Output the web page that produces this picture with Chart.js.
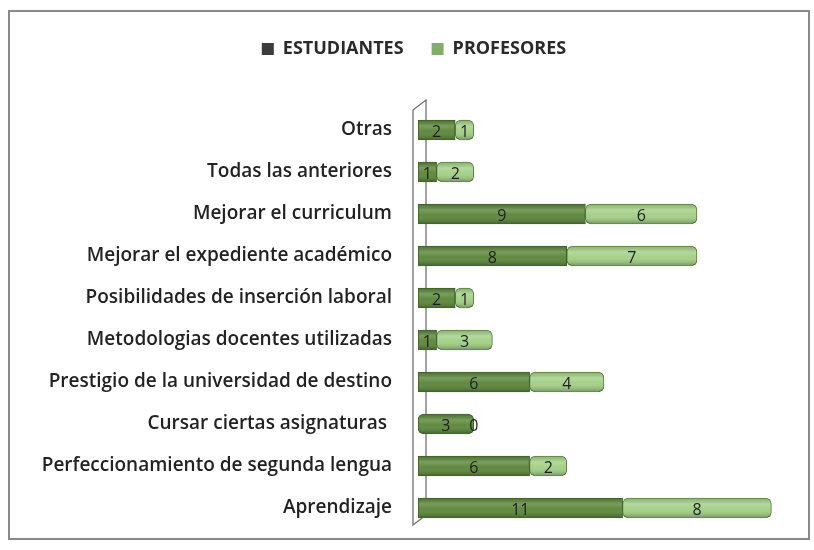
<!DOCTYPE html>
<html>
<head>
<meta charset="utf-8">
<script src="https://cdn.jsdelivr.net/npm/chart.js@4.4.0/dist/chart.umd.min.js"></script>
<style>
  body { margin: 0; background: #fff; }
  #frame { position: absolute; left: 8px; top: 10px; width: 798px; height: 526px; border: 2px solid #8a8a8a; background: #fff; }
  canvas { display: block; }
</style>
</head>
<body>
<div id="frame"><canvas id="c" width="798" height="526"></canvas></div>
<script>
const CATEGORIES = ['Otras','Todas las anteriores','Mejorar el curriculum','Mejorar el expediente académico','Posibilidades de inserción laboral','Metodologias docentes utilizadas','Prestigio de la universidad de destino','Cursar ciertas asignaturas ','Perfeccionamiento de segunda lengua','Aprendizaje'];
const ESTUDIANTES = [2, 1, 9, 8, 2, 1, 6, 3, 6, 11];
const PROFESORES  = [1, 2, 6, 7, 1, 3, 4, 0, 2, 8];

const FONT = "'Open Sans', sans-serif";

// legend block gets a fixed height so the plot starts where the original does
const legendSpace = {
  id: 'legendSpace',
  beforeInit(chart) {
    const fit = chart.legend.fit;
    chart.legend.fit = function () { fit.bind(chart.legend)(); this.height = 97; };
  }
};

// thin 3d "wall" behind the bars, like the old excel chart
const wall = {
  id: 'wall',
  beforeDatasetsDraw(chart) {
    const a = chart.chartArea, ctx = chart.ctx;
    const l = a.left - 5, r = a.left + 8;
    ctx.save();
    ctx.strokeStyle = '#707070';
    ctx.lineWidth = 1.3;
    ctx.beginPath();
    ctx.moveTo(r, a.bottom - 14);
    ctx.lineTo(r, a.top - 9);
    ctx.lineTo(l, a.top + 1);
    ctx.lineTo(l, a.bottom - 4);
    ctx.lineTo(r, a.bottom - 14);
    ctx.stroke();
    ctx.restore();
  }
};

// cylinder shading + value labels
const barDecor = {
  id: 'barDecor',
  afterDatasetsDraw(chart) {
    const ctx = chart.ctx;
    chart.data.datasets.forEach((ds, di) => {
      chart.getDatasetMeta(di).data.forEach(bar => {
        const x0 = Math.min(bar.base, bar.x), x1 = Math.max(bar.base, bar.x);
        const h = bar.height, top = bar.y - h / 2;
        if (x1 - x0 > 0) {
          ctx.save();
          const g = ctx.createLinearGradient(0, top, 0, top + h);
          g.addColorStop(0, 'rgba(0,0,0,0.15)');
          g.addColorStop(0.3, 'rgba(255,255,255,0.2)');
          g.addColorStop(0.55, 'rgba(255,255,255,0.04)');
          g.addColorStop(1, 'rgba(0,0,0,0.3)');
          ctx.fillStyle = g;
          ctx.fillRect(x0 + 1, top + 1, x1 - x0 - 2, h - 2);
          ctx.restore();
        }
      });
    });
    ctx.save();
    ctx.font = '16px ' + FONT;
    ctx.fillStyle = '#1e1e1e';
    ctx.textAlign = 'center';
    ctx.textBaseline = 'middle';
    chart.data.datasets.forEach((ds, di) => {
      chart.getDatasetMeta(di).data.forEach((bar, i) => {
        ctx.fillText(String(ds.data[i]), (bar.base + bar.x) / 2, bar.y + 2);
      });
    });
    ctx.restore();
  }
};

new Chart(document.getElementById('c'), {
  type: 'bar',
  data: {
    labels: CATEGORIES,
    datasets: [
      { label: 'ESTUDIANTES', data: ESTUDIANTES, backgroundColor: '#5a8538', borderColor: '#3d5c25', borderWidth: 1, borderRadius: 6, borderSkipped: false, barThickness: 20 },
      { label: 'PROFESORES', data: PROFESORES, backgroundColor: '#a2cf85', borderColor: '#55793a', borderWidth: 1, borderRadius: 6, borderSkipped: false, barThickness: 20 }
    ]
  },
  options: {
    indexAxis: 'y',
    responsive: false,
    animation: false,
    layout: { padding: { top: 0, bottom: 9, right: 18, left: 28 } },
    plugins: {
      legend: {
        position: 'top',
        labels: {
          color: '#2a2a2a',
          font: { family: FONT, size: 18, weight: 'bold' },
          boxWidth: 12, boxHeight: 12, padding: 28,
          generateLabels(chart) {
            const cols = ['#3a3d3d', '#84ad6c'];
            return chart.data.datasets.map((d, i) => ({
              text: d.label, fillStyle: cols[i], strokeStyle: cols[i], lineWidth: 0, datasetIndex: i, fontColor: '#2a2a2a'
            }));
          }
        }
      },
      tooltip: { enabled: false }
    },
    scales: {
      x: { stacked: true, min: 0, max: 20, display: false },
      y: {
        stacked: true,
        grid: { display: false },
        border: { display: false },
        ticks: { color: '#222', padding: 18, font: { family: FONT, size: 19, weight: '600' } },
        afterFit(scale) { scale.width = 380; scale.paddingTop = 0; scale.paddingBottom = 0; }
      }
    }
  },
  plugins: [legendSpace, wall, barDecor]
});
</script>
</body>
</html>
